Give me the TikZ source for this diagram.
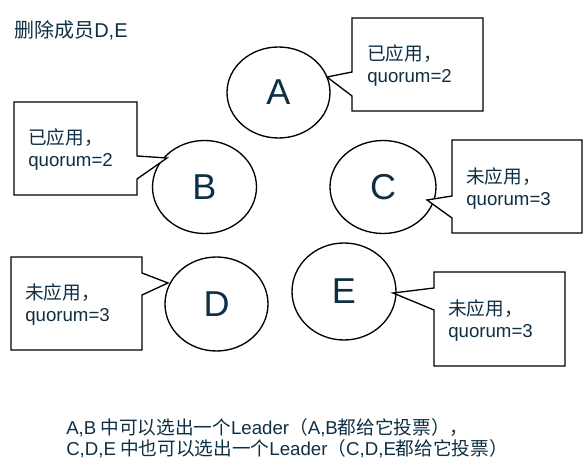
\documentclass[tikz,border=0pt]{standalone}
\usepackage{fontspec}
\setmainfont{Liberation Sans}
\newfontfamily\cjk{Noto Sans CJK SC}
\definecolor{txt}{RGB}{14,47,68}
\begin{document}
\begin{tikzpicture}[x=0.75pt,y=-0.75pt,
  callout/.style={draw=black, line width=1pt, fill=white},
  ctext/.style={anchor=west, align=left, text=txt, font=\fontsize{14}{16.5}\selectfont, inner sep=0pt},
  plain/.style={text=txt, inner sep=0pt},
  letter/.style={plain, font=\fontsize{27}{30}\selectfont}]
\useasboundingbox (0,0) rectangle (583,470);
\coordinate (A) at (278.5,92.5);
\coordinate (B) at (204.5,187);
\coordinate (C) at (383,187);
\coordinate (D) at (216.5,304);
\coordinate (E) at (344,291.5);
\draw[line width=1pt] (A) ellipse [x radius=51.5, y radius=45.5];
\draw[line width=1pt] (B) ellipse [x radius=52, y radius=46.5];
\draw[line width=1pt] (C) ellipse [x radius=53, y radius=46.5];
\draw[line width=1pt] (D) ellipse [x radius=51.5, y radius=47];
\draw[line width=1pt] (E) ellipse [x radius=52, y radius=48.5];
\node[letter] (lA) at (A) {A};
\node[letter] (lB) at (B) {B};
\node[letter] (lC) at (C) {C};
\node[letter] (lD) at (D) {D};
\node[letter] (lE) at (E) {E};
% callouts
\coordinate (tA) at (327,77);
\draw[callout] (352,18) -- (483,18) -- (483,111) -- (352,111) -- (352,96) -- (tA) -- (352,72) -- cycle;
\node[ctext] (cA) at (367,66) {{\cjk 已应用，}\\quorum=2};
\coordinate (tB) at (167,158);
\draw[callout] (14,102) -- (137,102) -- (137,156) -- (tB) -- (137,179) -- (137,195) -- (14,195) -- cycle;
\node[ctext] (cB) at (28,150) {{\cjk 已应用，}\\quorum=2};
\coordinate (tC) at (427,200);
\draw[callout] (452,140) -- (582,140) -- (582,233) -- (452,233) -- (452,218) -- (tC) -- (452,196) -- cycle;
\node[ctext] (cC) at (466,189) {{\cjk 未应用，}\\quorum=3};
\coordinate (tD) at (168,283);
\draw[callout] (11,257) -- (142,257) -- (142,273) -- (tD) -- (142,295) -- (142,350) -- (11,350) -- cycle;
\node[ctext] (cD) at (25,305) {{\cjk 未应用，}\\quorum=3};
\coordinate (tE) at (393,293);
\draw[callout] (434,272) -- (565,272) -- (565,366) -- (434,366) -- (434,310) -- (tE) -- (434,288) -- cycle;
\node[ctext] (cE) at (448,321) {{\cjk 未应用，}\\quorum=3};
% title
\node[plain, anchor=west, font=\fontsize{15}{17}\selectfont] (title) at (14,30) {{\cjk 删除成员}D,E};
% bottom text
\node[plain, anchor=west, align=left, font=\fontsize{14}{15.75}\selectfont] (note) at (66,438)
 {A,B\hspace{3pt}{\cjk 中可以选出一个}Leader{\cjk （}A,B{\cjk 都给它投票），}\\
  C,D,E\hspace{3pt}{\cjk 中也可以选出一个}Leader{\cjk （}C,D,E{\cjk 都给它投票）}};
\end{tikzpicture}
\end{document}
